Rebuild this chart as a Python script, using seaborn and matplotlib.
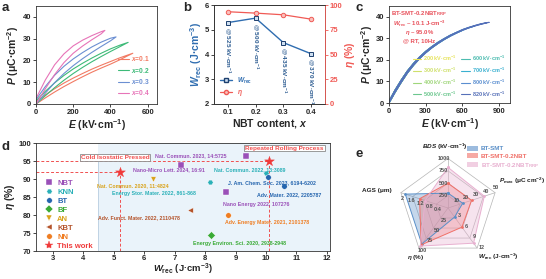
import numpy as np
import pandas as pd
import matplotlib
matplotlib.use('Agg')
import matplotlib.pyplot as plt
import seaborn as sns
from matplotlib.lines import Line2D
from matplotlib.patches import Patch

# ---------------- data: panel a (P-E loops, charge / discharge branches) ----------------
a_labels = ['0.1', '0.2', '0.3', '0.4']
a_colors = ['#f27a63', '#3dba78', '#6b8fd2', '#e774b8']
a_E = [
    [0, 50, 100, 150, 200, 250, 300, 350, 400, 450, 520],
    [0, 50, 100, 150, 200, 250, 300, 350, 400, 450, 495],
    [0, 50, 100, 150, 200, 250, 300, 350, 400, 430],
    [0, 50, 100, 150, 200, 250, 300, 350, 370],
]
a_P_charge = [
    [0, 2.8, 5.5, 8.0, 10.3, 12.5, 14.6, 16.5, 18.3, 20.3, 23.3],
    [0, 3.8, 7.5, 10.9, 14.0, 16.8, 19.4, 21.8, 24.1, 26.3, 28.3],
    [0, 5.0, 9.8, 14.0, 17.6, 20.8, 23.7, 26.4, 29.0, 30.8],
    [0, 7.0, 13.5, 19.0, 23.3, 26.6, 29.5, 32.2, 33.8],
]
a_P_discharge = [
    [1.0, 4.2, 7.0, 9.6, 11.9, 14.0, 16.0, 17.8, 19.5, 21.2, 23.3],
    [1.5, 5.8, 9.7, 13.1, 16.1, 18.7, 21.1, 23.3, 25.3, 27.0, 28.3],
    [2.0, 8.0, 13.2, 17.3, 20.7, 23.6, 26.2, 28.4, 30.2, 30.8],
    [2.5, 11.0, 18.0, 23.0, 26.7, 29.3, 31.4, 33.2, 33.8],
]

# ---------------- data: panel b ----------------
b_x = [0.1, 0.2, 0.3, 0.4]
b_W = [5.29, 5.47, 4.48, 4.03]
b_eta = [93.2, 91.8, 90.1, 85.7]
b_field = ['525', '500', '435', '370']

# ---------------- data: panel c ----------------
c_fields = [200, 300, 400, 500, 600, 700, 800, 820]
c_colors = ['#e6e35a', '#cfe06a', '#9fd67a', '#6cc78e', '#4dbcb0', '#3ab0d0', '#5a8ed0', '#5670b8']
c_E = [0, 50, 100, 150, 200, 250, 300, 350, 400, 450, 500, 550, 600, 650, 700, 750, 800, 820]
c_P_charge = [0, 5.0, 9.6, 13.9, 17.5, 20.6, 23.3, 25.6, 27.6, 29.4, 31.0, 32.4, 33.7, 34.8, 35.7, 36.5, 37.2, 37.4]
c_P_discharge = [0.8, 6.0, 10.6, 14.8, 18.3, 21.3, 23.9, 26.1, 28.1, 29.8, 31.4, 32.7, 34.0, 35.0, 35.9, 36.7, 37.3, 37.4]

# ---------------- data: panel d ----------------
d_cat = ['NBT', 'NBT', 'NBT', 'KNN', 'KNN', 'BT', 'BT', 'BF', 'AN', 'KBT', 'NN', 'This work', 'This work']
d_W = [9.35, 7.2, 8.7, 8.15, 10.0, 10.05, 10.6, 8.2, 6.3, 7.5, 8.75, 5.2, 10.1]
d_eta = [96.5, 94.0, 86.5, 89.2, 91.8, 90.6, 88.1, 74.4, 89.9, 81.5, 80.1, 92.0, 95.0]
d_ref = ['Nat. Commun. 2023, 14:5725', 'Nano-Micro Lett. 2024, 16:91', 'Nano Energy 2022, 107276',
         'Energy Stor. Mater. 2022, 861-868', 'Nat. Commun. 2022, 13:3089',
         'J. Am. Chem. Soc. 2023, 6194-6202', 'Adv. Mater. 2022, 2205787',
         'Energy Environ. Sci. 2020, 2938-2948', 'Nat. Commun. 2020, 11:4824',
         'Adv. Funct. Mater. 2022, 2110478', 'Adv. Energy Mater. 2021, 2101378', '', '']
d_ref_pos = [(6.35, 96.4), (5.65, 92.5), (8.6, 83.0), (4.95, 86.1), (8.3, 92.5),
             (8.75, 89.0), (9.7, 85.6), (7.6, 72.0), (4.45, 88.2), (4.5, 79.2), (8.65, 77.8),
             None, None]
d_order = ['NBT', 'KNN', 'BT', 'BF', 'AN', 'KBT', 'NN', 'This work']
d_colors = {'NBT': '#9a50b8', 'KNN': '#2ab0b8', 'BT': '#2565ae', 'BF': '#3aaa35',
            'AN': '#d9a31c', 'KBT': '#b4532a', 'NN': '#ef7d22', 'This work': '#f03a3a'}
d_markers = {'NBT': 's', 'KNN': 'H', 'BT': 'o', 'BF': 'D', 'AN': 'v', 'KBT': '<',
             'NN': 'o', 'This work': '*'}

# ---------------- data: panel e (radar) ----------------
e_axes = ['BDS', 'Pmax', 'Wrec', 'eta', 'AGS']
e_max = [1000, 48, 11.5, 100, 2.15]
e_samples = ['BT-SMT', 'BT-SMT-0.2NBT', 'BT-SMT-0.2NBT$_{RRP}$']
e_values = [
    [300, 15, 2.6, 90, 1.95],
    [500, 24, 5.5, 92, 1.3],
    [820, 37, 10.1, 95, 1.05],
]
e_colors = ['#5a8fc8', '#f07068', '#e8b0d0']
e_ticks = [[250, 500, 750, 1000], [10, 20, 30, 40, 50], [3, 6, 9, 12], [25, 50, 75, 100],
           [0.4, 0.8, 1.2, 1.6, 2.0]]

# ---------------- style ----------------
sns.set_theme(style='ticks')
plt.rcParams.update({
    'font.family': ['Liberation Sans', 'DejaVu Sans'],
    'font.weight': 'bold',
    'axes.labelweight': 'bold',
    'mathtext.fontset': 'custom',
    'mathtext.rm': 'Liberation Sans:bold',
    'mathtext.bf': 'Liberation Sans:bold',
    'mathtext.it': 'Liberation Sans:italic:bold',
    'mathtext.sf': 'Liberation Sans:bold',
    'mathtext.default': 'bf',
    'axes.linewidth': 0.6,
    'xtick.major.width': 0.6, 'ytick.major.width': 0.6,
    'xtick.major.size': 2, 'ytick.major.size': 2,
    'xtick.labelsize': 5.5, 'ytick.labelsize': 5.5,
    'axes.labelsize': 7.5,
    'xtick.major.pad': 1.5, 'ytick.major.pad': 1.5,
    'axes.labelpad': 1.0,
    'axes.edgecolor': '#333333',
})

fig = plt.figure(figsize=(5.46, 2.79), dpi=100)
W, H = 546, 279

def rect(l, t, r, b):
    return [l / W, 1 - b / H, (r - l) / W, (b - t) / H]

# ---------------- panel a ----------------
axa = fig.add_axes(rect(36, 6, 157, 104))
rows = []
for lab, E, pc, pd_ in zip(a_labels, a_E, a_P_charge, a_P_discharge):
    seq_E = list(E) + list(E[::-1])
    seq_P = list(pc) + list(pd_[::-1])
    for e, p in zip(seq_E, seq_P):
        rows.append({'x': lab, 'E': e, 'P': p})
dfa = pd.DataFrame(rows)
sns.lineplot(data=dfa, x='E', y='P', hue='x', palette=dict(zip(a_labels, a_colors)),
             sort=False, estimator=None, lw=0.8, ax=axa, legend=False)
axa.set_xlim(0, 650)
axa.set_ylim(0, 45)
axa.set_xticks([0, 200, 400, 600])
axa.set_yticks([0, 10, 20, 30, 40])
axa.set_xlabel('$\\it{E}$ (kV·cm$^{-1}$)')
axa.set_ylabel('$\\it{P}$ (μC·cm$^{-2}$)')
ha = [Line2D([], [], color=c, lw=0.8) for c in a_colors]
axa.legend(ha, ['$\\it{x}$=' + l for l in a_labels], loc='lower right', fontsize=4.8,
           frameon=False, labelcolor=a_colors, handlelength=1.6, labelspacing=0.35,
           borderaxespad=0.6, handletextpad=0.4)

# ---------------- panel b ----------------
axb = fig.add_axes(rect(214, 5, 325, 104))
dfb = pd.DataFrame({'x': b_x, 'W': b_W, 'eta': b_eta})
wcol = '#2f6db0'
ecol = '#f05a55'
sns.lineplot(data=dfb, x='x', y='W', color=wcol, lw=1.0, marker='s', markersize=3.2,
             markerfacecolor='#cfe0f2', markeredgecolor='#1d3f6e', markeredgewidth=0.7, ax=axb)
axb.set_ylim(2, 6)
axb.set_xlim(0.05, 0.45)
axb.set_xticks(b_x)
axb.set_yticks([2, 3, 4, 5, 6])
axb.set_xlabel('NBT content, $\\it{x}$')
axb.set_ylabel('$\\it{W}_{\\rm rec}$ (J·cm$^{-3}$)', color=wcol)
for xv, wv, f in zip(b_x, b_W, b_field):
    axb.text(xv, wv - 0.18, '@ ' + f + ' kV·cm$^{-1}$', rotation=-90, ha='center', va='top',
             fontsize=4.6, color='#2a5a90')
axb2 = axb.twinx()
sns.lineplot(data=dfb, x='x', y='eta', color=ecol, lw=0.9, marker='o', markersize=3.2,
             markerfacecolor='#f9c0bc', markeredgecolor=ecol, markeredgewidth=0.7, ax=axb2)
axb2.set_ylim(0, 100)
axb2.set_yticks([0, 25, 50, 75, 100])
axb2.tick_params(axis='y', colors=ecol, labelsize=5.5)
axb2.set_ylabel('$\\it{\\eta}$ (%)', color=ecol, labelpad=0.5)
axb2.spines['right'].set_color(ecol)
hb = [Line2D([], [], color=wcol, lw=1.0, marker='s', markersize=3, markerfacecolor='#cfe0f2',
             markeredgecolor='#1d3f6e'),
      Line2D([], [], color=ecol, lw=0.9, marker='o', markersize=3, markerfacecolor='#f9c0bc',
             markeredgecolor=ecol)]
axb2.legend(hb, ['$\\it{W}_{\\rm rec}$', '$\\it{\\eta}$'], loc='lower left', fontsize=4.8,
            frameon=False, labelcolor=[wcol, ecol], handlelength=1.8, borderaxespad=0.5,
            labelspacing=0.3)

# ---------------- panel c ----------------
axc = fig.add_axes(rect(389, 6, 510, 103))
rows = []
for fld in c_fields:
    idx = [i for i, e in enumerate(c_E) if e <= fld]
    Ec = [c_E[i] for i in idx]
    Pc = [c_P_charge[i] for i in idx]
    Pd = [c_P_discharge[i] for i in idx]
    Pd[-1] = Pc[-1]
    seq_E = Ec + Ec[::-1]
    seq_P = Pc + Pd[::-1]
    for e, p in zip(seq_E, seq_P):
        rows.append({'field': str(fld), 'E': e, 'P': p})
dfc = pd.DataFrame(rows)
sns.lineplot(data=dfc, x='E', y='P', hue='field',
             palette=dict(zip([str(f) for f in c_fields], c_colors)),
             sort=False, estimator=None, lw=0.8, ax=axc, legend=False)
axc.set_xlim(0, 990)
axc.set_ylim(0, 45)
axc.set_xticks([0, 300, 600, 900])
axc.set_yticks([0, 10, 20, 30, 40])
axc.set_xlabel('$\\it{E}$ (kV·cm$^{-1}$)')
axc.set_ylabel('$\\it{P}$ (μC·cm$^{-2}$)', labelpad=0.3)
rc = '#e8505a'
for txt, yy in zip(['BT-SMT-0.2NBT$_{RRP}$', '$\\it{W}_{\\rm rec}$ ~ 10.1 J·cm$^{-3}$',
                    '$\\it{\\eta}$ ~ 95.0%', '@ RT, 10Hz'], [0.925, 0.82, 0.725, 0.64]):
    axc.text(0.25, yy, txt, transform=axc.transAxes, ha='center', va='center',
             fontsize=4.3, color=rc)
hc = [Line2D([], [], color=c, lw=0.8) for c in c_colors]
axc.legend(hc, [f'{f} kV·cm$^{{-1}}$' for f in c_fields], ncol=2, loc='lower right',
           fontsize=4.0, frameon=False, labelcolor=c_colors, handlelength=1.5,
           columnspacing=0.8, labelspacing=0.45, handletextpad=0.4, borderaxespad=0.4)

# ---------------- panel d ----------------
axd = fig.add_axes(rect(36, 143, 330, 251))
axd.axvspan(4.5, 12.1, color='#eaf3fa', zorder=0, lw=0)
axd.axvline(4.5, ymax=0.83, color='#b8cde0', lw=0.6, zorder=0.5)
dcol = '#f05050'
axd.hlines(95, 2.45, 10.1, colors=dcol, linestyles=(0, (3, 2)), lw=0.7, zorder=1)
axd.hlines(92, 2.45, 5.2, colors=dcol, linestyles=(0, (3, 2)), lw=0.7, zorder=1)
axd.vlines(5.2, 70, 92, colors=dcol, linestyles=(0, (3, 2)), lw=0.7, zorder=1)
axd.vlines(10.1, 70, 95, colors=dcol, linestyles=(0, (3, 2)), lw=0.7, zorder=1)
dfd = pd.DataFrame({'cat': d_cat, 'W': d_W, 'eta': d_eta})
sizes = {c: (55 if c == 'This work' else 16) for c in d_order}
for cat in d_order:
    sub = dfd[dfd['cat'] == cat]
    sns.scatterplot(data=sub, x='W', y='eta', color=d_colors[cat], marker=d_markers[cat],
                    s=sizes[cat], edgecolor='white' if cat != 'This work' else d_colors[cat],
                    linewidth=0.3, ax=axd, zorder=3, legend=False)
for cat, ref, pos in zip(d_cat, d_ref, d_ref_pos):
    if pos is None:
        continue
    axd.text(pos[0], pos[1], ref, fontsize=3.8, color=d_colors[cat], ha='left', va='center',
             zorder=4)
axd.text(5.05, 95.9, 'Cold Isostatic Pressed', fontsize=4.6, color=dcol, ha='center',
         va='center', zorder=5,
         bbox=dict(boxstyle='square,pad=0.15', fc='white', ec='#8a8a8a', lw=0.6))
axd.text(10.6, 98.6, 'Repeated Rolling Process', fontsize=4.6, color=dcol, ha='center',
         va='center', zorder=5,
         bbox=dict(boxstyle='square,pad=0.15', fc='white', ec='#8a8a8a', lw=0.6))
axd.set_xlim(2.45, 12.1)
axd.set_ylim(70, 100)
axd.set_xticks(range(3, 13))
axd.set_yticks([70, 75, 80, 85, 90, 95, 100])
axd.tick_params(axis='x', pad=1.0)
axd.set_xlabel('$\\it{W}_{\\rm rec}$ (J·cm$^{-3}$)', fontsize=6.8, labelpad=0.0)
axd.set_ylabel('$\\it{\\eta}$ (%)')
hd = [Line2D([], [], ls='none', marker=d_markers[c], color=d_colors[c],
             markersize=(6 if c == 'This work' else 4), markeredgewidth=0.3,
             markeredgecolor='white' if c != 'This work' else d_colors[c]) for c in d_order]
axd.legend(hd, d_order, loc='upper left', bbox_to_anchor=(0.02, 0.69), fontsize=5.5,
           frameon=False, labelcolor=[d_colors[c] for c in d_order], handlelength=1.0,
           handletextpad=0.6, labelspacing=0.22, borderaxespad=0.0)

# ---------------- panel e (radar on a cartesian axes) ----------------
axe = fig.add_axes(rect(396, 156, 500, 260))
axe.set_xlim(-1.05, 1.05)
axe.set_ylim(-1.05, 1.05)
axe.set_aspect('equal')
axe.axis('off')
n = len(e_axes)
th = np.linspace(0, 2 * np.pi, n, endpoint=False)
sx, cy = np.sin(th), np.cos(th)
sx_c, cy_c = np.append(sx, sx[0]), np.append(cy, cy[0])
for rr in [0.25, 0.5, 0.75, 1.0]:
    axe.plot(rr * sx_c, rr * cy_c, color='#b5b5b5', lw=0.5, zorder=1)
for a, b in zip(sx, cy):
    axe.plot([0, a], [0, b], color='#b5b5b5', lw=0.5, zorder=1)
for vals, col in zip(e_values, e_colors):
    r = np.array([v / m for v, m in zip(vals, e_max)])
    xs = np.append(r * sx, r[0] * sx[0])
    ys = np.append(r * cy, r[0] * cy[0])
    axe.fill(xs, ys, color=col, alpha=0.35, zorder=2, lw=0)
    dfr = pd.DataFrame({'px': xs, 'py': ys})
    sns.lineplot(data=dfr, x='px', y='py', sort=False, estimator=None, color=col, lw=0.7,
                 marker='o', markersize=2, markeredgewidth=0, ax=axe, zorder=3)
axe.set_xlabel('')
axe.set_ylabel('')
for a, b, ticks, m in zip(sx, cy, e_ticks, e_max):
    for tv in ticks:
        rr = tv / m
        axe.text(rr * a - 0.09 * b, rr * b + 0.09 * a, f'{tv:g}', fontsize=4.0,
                 color='#555555', ha='center', va='center', zorder=4, clip_on=False)
lab_kw = dict(fontsize=4.6, color='#222222', clip_on=False)
axe.text(-0.06, 1.24, '$\\it{BDS}$ (kV·cm$^{-1}$)', ha='center', va='center', **lab_kw)
axe.text(1.03, 0.55, '$\\it{P}_{\\rm max}$ (μC cm$^{-2}$)', ha='left', va='center', **lab_kw)
axe.text(1.01, -0.99, '$\\it{W}_{\\rm rec}$ (J·cm$^{-3}$)', ha='center', va='center', **lab_kw)
axe.text(-0.65, -0.99, '$\\it{\\eta}$ (%)', ha='center', va='center', **lab_kw)
axe.text(-1.13, 0.36, 'AGS (μm)', ha='right', va='center', **lab_kw)
he = [Patch(facecolor=c, alpha=0.6, edgecolor='none') for c in e_colors]
axe.legend(he, e_samples, loc='upper left', bbox_to_anchor=(464 / W, 1 - 143 / H),
           bbox_transform=fig.transFigure, fontsize=4.5, frameon=False,
           labelcolor=e_colors, handlelength=1.8, handleheight=0.9, labelspacing=0.3,
           borderaxespad=0.0, handletextpad=0.5)

# ---------------- panel letters ----------------
for l, x, y in [('a', 2, 2), ('b', 183, 2), ('c', 355, 2), ('d', 2, 141), ('e', 355, 148)]:
    fig.text(x / W, 1 - y / H, l, fontsize=9.5, fontweight='bold', ha='left', va='top')

fig.savefig('out.png', dpi=100)
